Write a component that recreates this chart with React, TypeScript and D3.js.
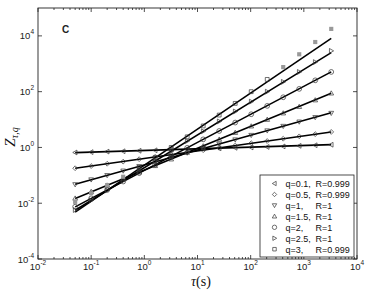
import React, { useEffect, useRef } from "react";
import * as d3 from "d3";

// time lags (s)
const taus = [0.05, 0.1, 0.2, 0.4, 0.8, 1.6, 3.2, 6.4, 12.8, 25.6, 51.2, 102.4, 204.8, 409.6, 819.2, 1638.4, 3276.8];

// Z_{tau,q} for each q
const z01 = [0.66, 0.68, 0.71, 0.73, 0.76, 0.79, 0.82, 0.86, 0.9, 0.93, 0.97, 1.0, 1.04, 1.09, 1.14, 1.2, 1.25];
const z05 = [0.18, 0.215, 0.26, 0.31, 0.38, 0.46, 0.55, 0.67, 0.8, 0.97, 1.17, 1.42, 1.7, 2.05, 2.5, 3.0, 3.6];
const z1 = [0.047, 0.07, 0.1, 0.145, 0.21, 0.3, 0.44, 0.64, 0.92, 1.33, 1.9, 2.75, 4.0, 5.8, 8.3, 12, 17];
const z15 = [0.015, 0.026, 0.044, 0.076, 0.13, 0.22, 0.38, 0.66, 1.12, 1.95, 3.4, 5.8, 10, 17, 29, 50, 88];
const z2 = [0.0075, 0.015, 0.03, 0.06, 0.12, 0.24, 0.48, 0.97, 1.95, 3.9, 7.8, 15.5, 31, 63, 126, 255, 510];
const z25 = [0.0057, 0.0127, 0.029, 0.066, 0.15, 0.33, 0.74, 1.7, 3.8, 8.6, 19.5, 44, 100, 225, 510, 1150, 2900];
const z3 = [0.0112, 0.0229, 0.0447, 0.089, 0.19, 0.44, 1.0, 2.4, 5.9, 14.5, 38, 100, 275, 760, 2190, 6030, 17800];
// q=3 points left out of the fit (drawn grey)
const z3Excluded = [true, true, true, true, false, false, false, false, false, false, false, false, false, true, true, true, true];

// fitted power-law lines: value at first and last tau
const fitLo = [0.65, 0.18, 0.048, 0.0148, 0.0074, 0.0056, 0.0048];
const fitHi = [1.26, 3.6, 17.4, 87, 513, 2500, 8100];

const qLabels = ["q=0.1,", "q=0.5,", "q=1,", "q=1.5,", "q=2,", "q=2.5,", "q=3,"];
const rLabels = ["R=0.999", "R=0.999", "R=1", "R=1", "R=1", "R=1", "R=0.999"];
const markers = ["left", "diamond", "down", "up", "circle", "right", "square"];

const xTicks = [1e-2, 1e-1, 1e0, 1e1, 1e2, 1e3, 1e4];
const yTicks = [1e-4, 1e-2, 1e0, 1e2, 1e4];

const series = [z01, z05, z1, z15, z2, z25, z3];

function markerPath(kind, r) {
  if (kind === "circle") {
    return `M${r},0A${r},${r} 0 1,1 ${-r},0A${r},${r} 0 1,1 ${r},0Z`;
  }
  if (kind === "square") {
    const s = r * 0.8;
    return `M${-s},${-s}H${s}V${s}H${-s}Z`;
  }
  if (kind === "diamond") return `M0,${-r}L${r},0L0,${r}L${-r},0Z`;
  if (kind === "up") return `M0,${-r}L${r},${r * 0.75}L${-r},${r * 0.75}Z`;
  if (kind === "down") return `M0,${r}L${r},${-r * 0.75}L${-r},${-r * 0.75}Z`;
  if (kind === "left") return `M${-r},0L${r * 0.75},${-r}L${r * 0.75},${r}Z`;
  return `M${r},0L${-r * 0.75},${-r}L${-r * 0.75},${r}Z`;
}

function Chart() {
  const ref = useRef(null);

  useEffect(() => {
    const svg = d3.select(ref.current);
    svg.selectAll("*").remove();

    const left = 38, right = 357, top = 8, bottom = 259;
    const x = d3.scaleLog().domain([1e-2, 1e4]).range([left, right]);
    const y = d3.scaleLog().domain([1e-4, 1e5]).range([bottom, top]);
    const font = "'Liberation Sans', Arial, sans-serif";
    const serif = "'Liberation Serif', 'Times New Roman', serif";

    // frame
    svg.append("rect")
      .attr("x", left).attr("y", top)
      .attr("width", right - left).attr("height", bottom - top)
      .attr("fill", "none").attr("stroke", "#222").attr("stroke-width", 0.9);

    // x ticks (major + minor), bottom and top, pointing inwards
    const minorX = [];
    for (let e = -2; e < 4; e++) {
      for (let m = 2; m <= 9; m++) minorX.push(m * Math.pow(10, e));
    }
    const tickG = svg.append("g").attr("stroke", "#222").attr("stroke-width", 0.8);
    xTicks.forEach(t => {
      tickG.append("line").attr("x1", x(t)).attr("x2", x(t)).attr("y1", bottom).attr("y2", bottom - 4);
      tickG.append("line").attr("x1", x(t)).attr("x2", x(t)).attr("y1", top).attr("y2", top + 4);
    });
    minorX.forEach(t => {
      tickG.append("line").attr("x1", x(t)).attr("x2", x(t)).attr("y1", bottom).attr("y2", bottom - 2);
      tickG.append("line").attr("x1", x(t)).attr("x2", x(t)).attr("y1", top).attr("y2", top + 2);
    });
    yTicks.forEach(t => {
      tickG.append("line").attr("x1", left).attr("x2", left + 4).attr("y1", y(t)).attr("y2", y(t));
      tickG.append("line").attr("x1", right).attr("x2", right - 4).attr("y1", y(t)).attr("y2", y(t));
    });

    // tick labels
    xTicks.forEach(t => {
      const txt = svg.append("text")
        .attr("x", x(t)).attr("y", 270)
        .attr("text-anchor", "middle")
        .attr("font-family", font).attr("font-size", 9.5).attr("fill", "#222");
      txt.append("tspan").text("10");
      txt.append("tspan").attr("dy", -5).attr("font-size", 6.5).text(String(Math.round(Math.log10(t))));
    });
    yTicks.forEach(t => {
      const txt = svg.append("text")
        .attr("x", 34).attr("y", y(t) + 3.5)
        .attr("text-anchor", "end")
        .attr("font-family", font).attr("font-size", 9.5).attr("fill", "#222");
      txt.append("tspan").text("10");
      txt.append("tspan").attr("dy", -5).attr("font-size", 6.5).text(String(Math.round(Math.log10(t))));
    });

    // axis titles
    const xt = svg.append("text")
      .attr("x", 201).attr("y", 286)
      .attr("text-anchor", "middle")
      .attr("font-family", serif).attr("font-size", 14).attr("fill", "#111");
    xt.append("tspan").attr("font-style", "italic").text("τ");
    xt.append("tspan").text("(s)");

    const yt = svg.append("text")
      .attr("transform", `translate(15,137) rotate(-90)`)
      .attr("text-anchor", "middle")
      .attr("font-family", serif).attr("font-size", 15).attr("font-style", "italic").attr("fill", "#111");
    yt.append("tspan").text("Z");
    yt.append("tspan").attr("dy", 3).attr("font-size", 10).text("τ,q");

    svg.append("text")
      .attr("x", 62).attr("y", 33)
      .attr("font-family", font).attr("font-size", 10).attr("font-weight", "bold").attr("fill", "#222")
      .text("C");

    // fit lines
    const lineG = svg.append("g");
    fitLo.forEach((lo, i) => {
      lineG.append("line")
        .attr("x1", x(taus[0])).attr("y1", y(lo))
        .attr("x2", x(taus[taus.length - 1])).attr("y2", y(fitHi[i]))
        .attr("stroke", "#000").attr("stroke-width", 1.6);
    });

    // data markers
    series.forEach((vals, i) => {
      const g = svg.append("g");
      vals.forEach((v, k) => {
        const grey = i === 6 && z3Excluded[k];
        g.append("path")
          .attr("transform", `translate(${x(taus[k])},${y(v)})`)
          .attr("d", markerPath(markers[i], grey ? 2.6 : 2.4))
          .attr("fill", grey ? "#999" : "none")
          .attr("stroke", grey ? "none" : "#333")
          .attr("stroke-width", 0.7);
      });
    });

    // legend
    const lg = svg.append("g");
    lg.append("rect")
      .attr("x", 260).attr("y", 175)
      .attr("width", 94).attr("height", 82)
      .attr("fill", "#fff").attr("stroke", "#222").attr("stroke-width", 0.8);
    qLabels.forEach((q, i) => {
      const yy = 183.5 + i * 10.95;
      lg.append("path")
        .attr("transform", `translate(274.5,${yy})`)
        .attr("d", markerPath(markers[i], 2.2))
        .attr("fill", "none").attr("stroke", "#333").attr("stroke-width", 0.7);
      lg.append("text")
        .attr("x", 285.5).attr("y", yy + 3.3)
        .attr("font-family", font).attr("font-size", 9).attr("fill", "#111")
        .text(q);
      lg.append("text")
        .attr("x", 315.5).attr("y", yy + 3.3)
        .attr("font-family", font).attr("font-size", 9).attr("fill", "#111")
        .text(rLabels[i]);
    });
  }, []);

  return (
    <svg
      ref={ref}
      width={368}
      height={294}
      style={{ position: "absolute", left: 0, top: 0, background: "#fff" }}
    />
  );
}

export default function App() {
  return <Chart />;
}
